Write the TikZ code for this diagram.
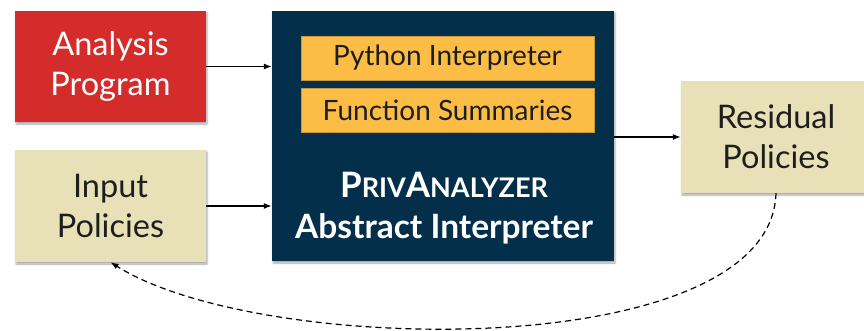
\documentclass[tikz,border=0pt]{standalone}
\usepackage{fontspec}
\setmainfont{Lato}
\usetikzlibrary{arrows.meta,shadows.blur}
\definecolor{redbox}{HTML}{D42B2B}
\definecolor{beige}{HTML}{E8E0B6}
\definecolor{navy}{HTML}{032F4B}
\definecolor{orangebox}{HTML}{FBBD46}
\definecolor{txt}{HTML}{1E1E1E}
\tikzset{
  box/.style={rectangle, inner sep=0pt, align=center,
    blur shadow={shadow xshift=1pt, shadow yshift=-2pt, shadow blur radius=2pt, shadow opacity=35}},
  redstyle/.style={box, fill=redbox, text=white},
  beigestyle/.style={box, fill=beige, text=txt},
  navystyle/.style={box, fill=navy},
  orangestyle/.style={rectangle, inner sep=0pt, fill=orangebox, text=txt, draw=orangebox!80!black, line width=0.4pt},
  conn/.style={line width=1.2pt, -{Latex[length=8pt,width=6pt]}},
  dashconn/.style={line width=1.2pt, dashed, dash pattern=on 6pt off 4pt, -{Latex[length=8pt,width=6pt]}},
  bigfont/.style={font=\fontsize{32.5}{40}\selectfont},
  midfont/.style={font=\fontsize{28}{30}\selectfont},
  boldfont/.style={font=\bfseries\fontsize{33.5}{40}\selectfont}
}
\begin{document}
\begin{tikzpicture}[x=1pt,y=-1pt]
\useasboundingbox (0,0) rectangle (864,331);
\node[redstyle, minimum width=191pt, minimum height=111pt, bigfont] (ap) at (110.5,66.5) {Analysis\\Program};
\node[beigestyle, minimum width=191pt, minimum height=112pt, bigfont] (ip) at (110.5,206) {Input\\Policies};
\node[navystyle, minimum width=342pt, minimum height=250pt] (big) at (443,136) {};
\node[orangestyle, minimum width=293pt, minimum height=44pt, midfont] (py) at (447.5,58) {Python Interpreter};
\node[orangestyle, minimum width=293pt, minimum height=44pt, midfont] (fs) at (447.5,110) {Function Summaries};
\node[text=white, boldfont, anchor=base, inner sep=0pt] (pa) at (444,197) {\fontsize{35}{40}\selectfont P{\fontsize{27}{30}\selectfont RIV}A{\fontsize{27}{30}\selectfont NALYZER}};
\node[text=white, boldfont, anchor=base, inner sep=0pt] (ai) at (444,238) {Abstract Interpreter};
\node[beigestyle, minimum width=190pt, minimum height=112pt, bigfont] (rp) at (776,137) {Residual\\Policies};
\draw[conn] (ap.east) -- (ap.east -| big.west);
\draw[conn] (ip.east) -- (ip.east -| big.west);
\draw[conn] (big.east |- rp.west) -- (rp.west);
\draw[dashconn] (rp.south) .. controls +(-5,170) and +(150,95) .. (ip.south);
\end{tikzpicture}
\end{document}
